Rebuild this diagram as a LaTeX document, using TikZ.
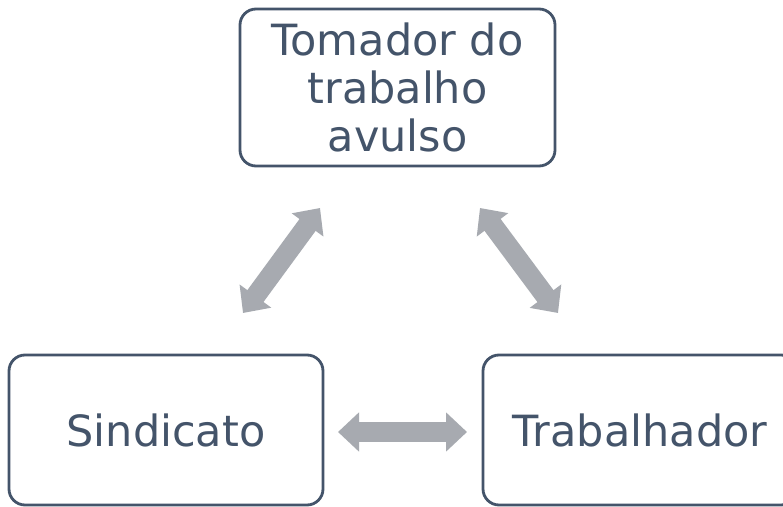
\documentclass[tikz,border=0pt]{standalone}
\usepackage{fontspec}
\setmainfont{DejaVu Sans}
\usetikzlibrary{arrows.meta}
\definecolor{boxc}{HTML}{44546A}
\definecolor{arrc}{HTML}{A7AAB0}
\begin{document}
\begin{tikzpicture}[x=1pt,y=1pt,
 box/.style={draw=boxc, line width=2.8pt, rounded corners=16pt, text=boxc, align=center, inner sep=0pt, font=\fontsize{43}{48}\selectfont},
 blockarrow/.style={draw=arrc, line width=20pt, {Triangle[width=38pt,length=21pt]}-{Triangle[width=38pt,length=21pt]}}]
\useasboundingbox (0,0) rectangle (783,506);
\fill[white] (0,0) rectangle (783,506);
\node[box, minimum width=315pt, minimum height=157pt] (top) at (397.5,418.5) {Tomador do\\trabalho\\avulso};
\node[box, minimum width=314pt, minimum height=150pt] (sind) at (166,76) {Sindicato};
\node[box, minimum width=314pt, minimum height=150pt] (trab) at (640,76) {Trabalhador};
\coordinate (l1) at (243,193);
\coordinate (l2) at (320,298);
\coordinate (r1) at (480,298);
\coordinate (r2) at (558,193);
\coordinate (h1) at (338,74);
\coordinate (h2) at (467,74);
\draw[blockarrow] (l1) -- (l2);
\draw[blockarrow] (r1) -- (r2);
\draw[blockarrow] (h1) -- (h2);
\end{tikzpicture}
\end{document}
